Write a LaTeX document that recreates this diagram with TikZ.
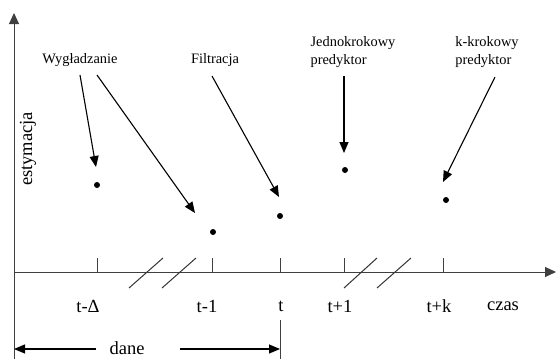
\documentclass[tikz,border=0pt]{standalone}
\usepackage{fontspec}
\setmainfont{Liberation Serif}
\usetikzlibrary{arrows.meta}
\tikzset{
  ax/.style={line width=1pt, draw=black!75},
  ptr/.style={line width=1.1pt, -{Triangle[length=11pt,width=9pt]}},
  dot/.style={circle, fill=black, inner sep=0pt, minimum size=6pt},
  toplbl/.style={font=\fontsize{14.4}{18}\selectfont, inner sep=0pt, align=left},
  axlbl/.style={font=\fontsize{18.5}{22}\selectfont, inner sep=0pt},
  brk/.style={line width=1pt, draw=black!80},
}
\begin{document}
\begin{tikzpicture}[x=1pt,y=-1pt]
\useasboundingbox (0,0) rectangle (557,359);
% axes
\coordinate (O) at (14,272);
\coordinate (ytop) at (14,13);
\coordinate (ybot) at (14,359);
\coordinate (xend) at (556,272);
\draw[ax] (ybot) -- (O);
\draw[ax, -{Triangle[length=11pt,width=10pt]}] (O) -- (ytop);
\draw[ax, -{Triangle[length=11pt,width=10pt]}] (O) -- (xend);
% ticks
\foreach \n/\x in {td/97, tm/212, tt/280, tp/344, tk/443}{
  \coordinate (\n) at (\x,272);
  \coordinate (\n up) at (\x,258);
  \draw[ax] (\n) -- (\n up);
}
% breaks
\foreach \a/\b in {129/163, 162/196, 344/377, 377/411}{
  \draw[brk] (\a,288) -- (\b,258);
}
% axis labels
\node[axlbl] (l1) at (88,306) {t-Δ};
\node[axlbl] (l2) at (207,306) {t-1};
\node[axlbl] (l3) at (281,306) {t};
\node[axlbl] (l4) at (340,306) {t+1};
\node[axlbl] (l5) at (439,306) {t+k};
\node[axlbl] (l6) at (503,306) {czas};
\node[axlbl, rotate=90] (est) at (28,149) {estymacja};
% dane
\node[axlbl] (dane) at (127,348) {dane};
\coordinate (dl) at (14,349);
\coordinate (dr) at (280,349);
\coordinate (dtop) at (280,320);
\coordinate (dbot) at (280,359);
\draw[ax] (dtop) -- (dbot);
\draw[line width=1.1pt, -{Triangle[length=11pt,width=9pt]}] (dane.west) ++(-13,1) -- (dl);
\draw[line width=1.1pt, -{Triangle[length=11pt,width=9pt]}] (dane.east) ++(35,1) -- (dr);
% dots
\node[dot] (p1) at (97,185) {};
\node[dot] (p2) at (213,232) {};
\node[dot] (p3) at (280,216) {};
\node[dot] (p4) at (345,170) {};
\node[dot] (p5) at (446,200) {};
% top labels
\node[toplbl] (wyg) at (80,60) {Wygładzanie};
\node[toplbl] (fil) at (215,60) {Filtracja};
\node[toplbl] (jed) at (353,52) {Jednokrokowy\\predyktor};
\node[toplbl] (kk) at (487,52) {k-krokowy\\predyktor};
% arrows
\coordinate (a1s) at (80,75);  \coordinate (a1e) at (96,167);
\coordinate (a2s) at (97,75);  \coordinate (a2e) at (195,213);
\coordinate (a3s) at (212,76); \coordinate (a3e) at (279,197);
\coordinate (a4s) at (344,76); \coordinate (a4e) at (344,153);
\coordinate (a5s) at (495,77); \coordinate (a5e) at (443,182);
\draw[ptr] (a1s) -- (a1e);
\draw[ptr] (a2s) -- (a2e);
\draw[ptr] (a3s) -- (a3e);
\draw[ptr] (a4s) -- (a4e);
\draw[ptr] (a5s) -- (a5e);
\end{tikzpicture}
\end{document}
